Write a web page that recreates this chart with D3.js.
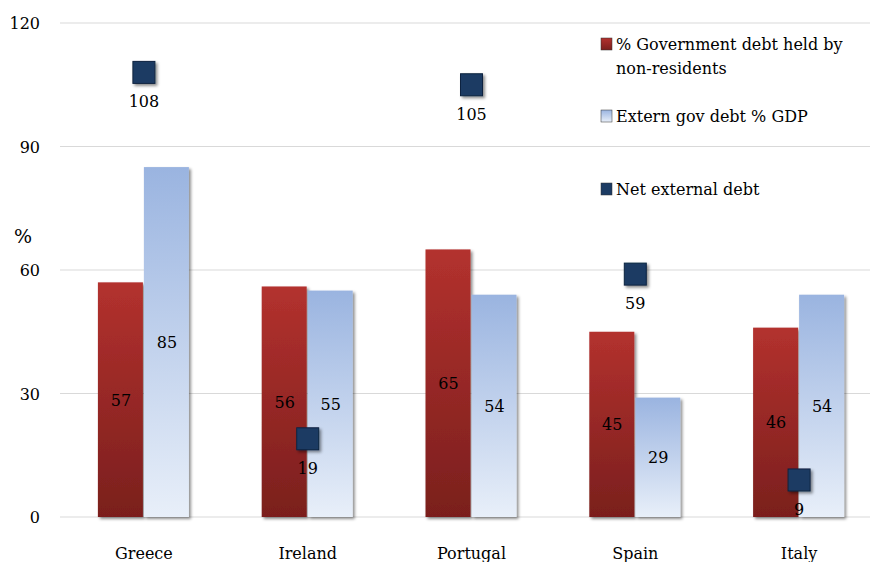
<!DOCTYPE html>
<html><head><meta charset="utf-8">
<script src="https://cdn.jsdelivr.net/npm/d3@7.9.0/dist/d3.min.js"></script>
<style>body{margin:0;background:#fff}svg{font-family:"DejaVu Serif",serif}</style>
</head><body><svg id="c" width="870" height="562"></svg>
<script>
const countries = ['Greece', 'Ireland', 'Portugal', 'Spain', 'Italy'];
const govHeld = [57, 56, 65, 45, 46];
const externGov = [85, 55, 54, 29, 54];
const netExternal = [108, 19, 105, 59, 9];
const yTicks = [0, 30, 60, 90, 120];

const svg = d3.select('#c');
const x = d3.scaleBand().domain(countries).range([61, 880]);
const y = d3.scaleLinear().domain([0, 120]).range([517, 23]);
const bw = 46;

const defs = svg.append('defs');
let g1 = defs.append('linearGradient').attr('id', 'red').attr('x1', 0).attr('x2', 0).attr('y1', 0).attr('y2', 1);
g1.append('stop').attr('offset', 0).attr('stop-color', '#b3312e');
g1.append('stop').attr('offset', 1).attr('stop-color', '#7a1f1d');
let g2 = defs.append('linearGradient').attr('id', 'blue').attr('x1', 0).attr('x2', 0).attr('y1', 0).attr('y2', 1);
g2.append('stop').attr('offset', 0).attr('stop-color', '#9ab4e0');
g2.append('stop').attr('offset', 1).attr('stop-color', '#e8eff9');
let f = defs.append('filter').attr('id', 'sh').attr('x', '-20%').attr('y', '-20%').attr('width', '150%').attr('height', '150%');
f.append('feDropShadow').attr('dx', 2).attr('dy', 2).attr('stdDeviation', 1.5).attr('flood-opacity', 0.45);

svg.selectAll('.grid').data(yTicks).join('line')
  .attr('x1', 60).attr('x2', 870).attr('y1', d => y(d)).attr('y2', d => y(d))
  .attr('stroke', '#d9d9d9');
svg.selectAll('.yl').data(yTicks).join('text')
  .attr('x', 40).attr('y', d => y(d) + 6).attr('text-anchor', 'end')
  .attr('font-size', 16).text(d => d);
svg.append('text').attr('x', 14).attr('y', 243).attr('font-size', 19).text('%');

svg.selectAll('.xl').data(countries).join('text')
  .attr('x', d => x(d) + x.bandwidth() / 2 + 1).attr('y', 559).attr('text-anchor', 'middle')
  .attr('font-size', 16).text(d => d);

countries.forEach((c, i) => {
  const cx = x(c) + x.bandwidth() / 2 + 1;
  const bars = [[govHeld[i], cx - bw, 'url(#red)'], [externGov[i], cx, 'url(#blue)']];
  bars.forEach(([v, bx, fill]) => {
    svg.append('rect').attr('x', bx).attr('y', y(v)).attr('width', bw - 1).attr('height', y(0) - y(v))
      .attr('fill', fill).attr('filter', 'url(#sh)');
    svg.append('text').attr('x', bx + bw / 2).attr('y', (y(v) + y(0)) / 2 + 6)
      .attr('text-anchor', 'middle').attr('font-size', 16).text(v);
  });
  const my = y(netExternal[i]);
  svg.append('rect').attr('x', cx - 11).attr('y', my - 11).attr('width', 22).attr('height', 22)
    .attr('fill', '#1c3b63').attr('stroke', '#0e2340').attr('filter', 'url(#sh)');
  svg.append('text').attr('x', cx).attr('y', my + 35).attr('text-anchor', 'middle')
    .attr('font-size', 16).text(netExternal[i]);
});

const legend = [['url(#red)', ['% Government debt held by', 'non-residents'], 45],
  ['url(#blue)', ['Extern gov debt % GDP'], 117],
  ['#1c3b63', ['Net external debt'], 190]];
legend.forEach(([fill, lines, ly]) => {
  svg.append('rect').attr('x', 601).attr('y', ly - 7).attr('width', 11).attr('height', 12)
    .attr('fill', fill).attr('stroke', '#333').attr('stroke-width', 0.5);
  lines.forEach((t, k) => svg.append('text').attr('x', 616).attr('y', ly + 5 + k * 24)
    .attr('font-size', 16).text(t));
});
</script></body></html>
